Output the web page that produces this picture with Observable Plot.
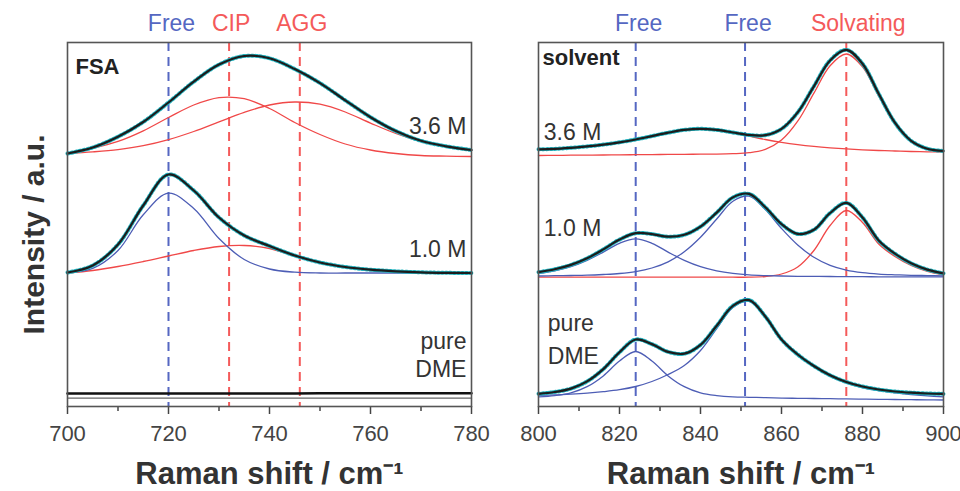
<!DOCTYPE html>
<html><head><meta charset="utf-8">
<script src="https://cdn.jsdelivr.net/npm/d3@7"></script>
<script src="https://cdn.jsdelivr.net/npm/@observablehq/plot@0.6"></script>
<style>
html,body{margin:0;padding:0;background:#fff;overflow:hidden;}
#wrap{display:flex;width:960px;height:491px;}
#wrap svg{overflow:visible;}
svg text{font-family:"Liberation Sans",Arial,Helvetica,sans-serif;}
</style></head><body><div id="wrap"></div>
<script>
// ---------- FSA panel (700–780 cm-1) ----------
const xFSA = [700,705,710,715,720,725,730,735,740,745,750,755,760,765,770,775,780];
const fsa36Fit = [253,259,269.8,284.5,304,324.8,341.9,350.5,348.2,337.4,323.4,306.2,289.3,275.5,265.7,260.2,256.5];
const fsa36CIP = [253.5,258.3,265.1,275.7,289,301.5,308.9,307.8,298,284,272,262.5,256.5,253,251,250.4,250];
const fsa36AGG = [253,254.6,256.9,260.8,266.9,275,284.6,294.1,301.5,304.5,302.3,294.5,283.4,273,265,260,256.5];
const fsa10Fit = [134,141,162,201,232,216,189,171,160.5,151,144,139.5,136.8,135.2,134.2,133.7,133.5];
const fsa10Free = [134,138.1,156,191.7,213.3,198,168,147,137.5,134.3,133.5,133.5,133.5,133.5,133.5,133.5,133.5];
const fsa10CIP = [133.5,136,140,145,150.5,156,160,161,158,150.5,144,139,136,134.5,133.7,133.5,133.3];
const fsaPure = [13,13,13,13,13,13,13,13,13,13,13.2,13.2,13.2,13.3,13.3,13.3,13.3];
const fsaPureBase = [8.3,8.3,8.3,8.3,8.3,8.3,8.3,8.3,8.3,8.3,8.3,8.3,8.3,8.3,8.3,8.3,8.3];
const fsaTicks = [700,720,740,760,780];
const fsaMinor = [710,730,750,770];
const fsaBands = [{pos:720, name:"Free", kind:"free"},{pos:732, name:"CIP", kind:"bound"},{pos:746, name:"AGG", kind:"bound"}];
const fsaLabels = [{x:779, y:273, t:"3.6 M"},{x:779, y:150, t:"1.0 M"},{x:779, y:58, t:"pure"},{x:779, y:29.5, t:"DME"}];

// ---------- solvent panel (800–900 cm-1) ----------
const xSol = [800,804,808,812,816,820,824,828,832,836,840,844,848,852,856,860,864,868,872,876,880,884,888,892,896,900];
const sol36Fit = [257.2,257.6,258.7,260.1,261.9,264.2,267,270.4,273.8,276.6,277.7,276.6,274,271.5,271.3,277.6,294.1,320.2,346.1,356.6,342.8,312.7,283.8,265.7,257.8,255.5];
const sol36Broad = [256.7,257.6,258.7,260.1,261.9,264.2,267,270.4,273.8,276.6,277.7,276.6,273.8,270.4,267,264.2,261.9,260.1,258.7,257.6,256.7,256,255.5,255,254.7,254.3];
const sol36Solv = [251,251.1,251.3,251.4,251.5,251.7,251.8,251.9,252.1,252.2,252.3,252.4,252.8,253.8,257.1,266.4,285.3,313.3,340.8,352.5,339.7,310.5,282.2,264.7,257.3,255];
const sol10Fit = [134.3,137.2,141.6,148.2,157.1,166.9,173.3,172.4,169.8,171.7,179.9,193.9,209.1,212.6,199.2,182.4,172.6,176.7,193.5,203.6,189,166,152.8,143.2,136.9,133.1];
const sol10Free1 = [133.1,135.7,139.9,146.2,154.4,163.2,167.7,163.2,154.4,146.2,139.9,135.7,133.1,131.6,130.9,130.5,130.2,130.1,130,129.8,129.8,129.7,129.7,129.6,129.6,129.6];
const sol10Free2 = [130.5,130.8,131,131.3,132,133,134.9,138.5,144.7,154.8,169.3,187.5,205.3,210.3,196.9,178,161.5,149.2,141.1,136.4,133.8,132.4,131.7,131.2,130.9,130.6];
const sol10Solv = [129.3,129.3,129.3,129.3,129.3,129.3,129.3,129.3,129.3,129.3,129.3,129.3,129.3,129.3,130,132.5,139.5,156,181,196,184,162.5,150,141,135,131.5];
const sol0Fit = [12.7,14.5,17.9,25.1,37.4,54.2,67,62.4,54.6,52.8,61.6,80.7,100.7,106.4,90,67,52,40.5,31.2,24.5,20,17,15,13.8,13,12.6];
const sol0Free1 = [9.6,10.9,13.6,19.8,30.6,45.4,55,45.4,30.6,19.8,13.6,10.9,9.6,9.2,8.9,8.4,8.2,8,7.8,7.6,7.4,7.2,7,6.8,6.6,6.5];
const sol0Free2 = [11.1,11.6,12.3,13.3,14.8,16.8,20,25,32,41,56,77.8,99.1,105.2,89.1,66.6,51.5,39.8,30.4,23.6,18.9,15.8,13.6,12,10.7,9.6];
const solTicks = [800,820,840,860,880,900];
const solMinor = [810,830,850,870,890];
const solBands = [{pos:824, name:"Free", kind:"free"},{pos:851, name:"Free", kind:"free"},{pos:876, name:"Solvating", kind:"bound"}];
const solLabels = [{x:801.3, y:267, t:"3.6 M"},{x:801.3, y:171, t:"1.0 M"},{x:802.3, y:76, t:"pure"},{x:802.3, y:43, t:"DME"}];

// ---------- styling ----------
const BLUE = "#4d5db5", RED = "#f04848", BLUE_DASH = "#5567c2", RED_DASH = "#f45a5a";
const FIT = "#1c1c1c", DATA = "#22b4c0", FRAME = "#555", TXT = "#333";
const FONT = '"Liberation Sans", Arial, Helvetica, sans-serif';

const rows = (xs, ys) => xs.map((x, i) => ({x, y: ys[i]}));

function comp(xs, ys, color, w = 1.3) {
  return Plot.line(rows(xs, ys), {x: "x", y: "y", stroke: color, strokeWidth: w, curve: "catmull-rom"});
}
function fit(xs, ys) {
  return [
    Plot.line(rows(xs, ys), {x: "x", y: "y", stroke: DATA, strokeWidth: 4, strokeDasharray: "1.5,2.5", curve: "catmull-rom"}),
    Plot.line(rows(xs, ys), {x: "x", y: "y", stroke: FIT, strokeWidth: 2.2, curve: "catmull-rom"})
  ];
}
function bandMarks(bands, freeDx, boundDx) {
  const free = bands.filter(b => b.kind === "free"), bound = bands.filter(b => b.kind === "bound");
  return [
    Plot.ruleX(free, {x: "pos", stroke: BLUE_DASH, strokeWidth: 2, strokeDasharray: "9,6"}),
    Plot.ruleX(bound, {x: "pos", stroke: RED_DASH, strokeWidth: 2, strokeDasharray: "9,6"}),
    Plot.text(free, {x: "pos", text: "name", frameAnchor: "top", dx: freeDx, dy: -12, lineAnchor: "bottom", fill: BLUE_DASH, fontSize: 23}),
    Plot.text(bound, {x: "pos", text: "name", frameAnchor: "top", dx: boundDx, dy: -12, lineAnchor: "bottom", fill: RED_DASH, fontSize: 23})
  ];
}
function axes(ticks, minor) {
  return [
    Plot.axisX({ticks, tickSize: 8, tickPadding: 11, fontSize: 22, label: null, color: "#444", strokeWidth: 1.5}),
    Plot.axisX({ticks: minor, tickSize: 5, tickFormat: () => "", label: null, color: "#444", strokeWidth: 1.5}),
    Plot.frame({stroke: FRAME, strokeWidth: 1.6}),
    Plot.text(["Raman shift / cm⁻¹"], {text: d => d, frameAnchor: "bottom", dy: 77, lineAnchor: "bottom", fontSize: 31, fontWeight: "bold", fill: TXT})
  ];
}

const common = {
  width: 480, height: 491, marginTop: 42, marginBottom: 85,
  y: {domain: [0, 364], axis: null},
  style: {background: "transparent", overflow: "visible", fontFamily: FONT}
};

const left = Plot.plot({
  ...common, marginLeft: 67, marginRight: 9,
  x: {domain: [700, 780], axis: null},
  marks: [
    ...bandMarks(fsaBands, 3, 2),
    comp(xFSA, fsaPureBase, "#666", 1.2),
    comp(xFSA, fsa36CIP, RED), comp(xFSA, fsa36AGG, RED),
    comp(xFSA, fsa10CIP, RED), comp(xFSA, fsa10Free, BLUE),
    ...fit(xFSA, fsa36Fit), ...fit(xFSA, fsa10Fit),
    Plot.line(rows(xFSA, fsaPure), {x: "x", y: "y", stroke: "#111", strokeWidth: 2.6}),
    ...axes(fsaTicks, fsaMinor),
    Plot.text(fsaLabels, {x: "x", y: "y", text: "t", textAnchor: "end", lineAnchor: "bottom", fontSize: 23, fill: TXT}),
    Plot.text(["FSA"], {text: d => d, frameAnchor: "top-left", dx: 8, dy: 31, lineAnchor: "bottom", textAnchor: "start", fontSize: 22, fontWeight: "bold", fill: "#222"}),
    Plot.text(["Intensity / a.u."], {text: d => d, frameAnchor: "left", rotate: -90, dx: -24, dy: 10, lineAnchor: "bottom", textAnchor: "middle", fontSize: 30, fontWeight: "bold", fill: TXT})
  ]
});

const right = Plot.plot({
  ...common, marginLeft: 58, marginRight: 17,
  x: {domain: [800, 900], axis: null},
  marks: [
    ...bandMarks(solBands, 3, 12),
    comp(xSol, sol36Broad, RED), comp(xSol, sol36Solv, RED),
    comp(xSol, sol10Solv, RED), comp(xSol, sol10Free1, BLUE), comp(xSol, sol10Free2, BLUE),
    comp(xSol, sol0Free1, BLUE), comp(xSol, sol0Free2, BLUE),
    ...fit(xSol, sol36Fit), ...fit(xSol, sol10Fit), ...fit(xSol, sol0Fit),
    ...axes(solTicks, solMinor),
    Plot.text(solLabels, {x: "x", y: "y", text: "t", textAnchor: "start", lineAnchor: "bottom", fontSize: 23, fill: TXT}),
    Plot.text(["solvent"], {text: d => d, frameAnchor: "top-left", dx: 4, dy: 22, lineAnchor: "bottom", textAnchor: "start", fontSize: 22, fontWeight: "bold", fill: "#222"})
  ]
});

const wrap = document.getElementById("wrap");
wrap.appendChild(left);
wrap.appendChild(right);
</script>
</body></html>
